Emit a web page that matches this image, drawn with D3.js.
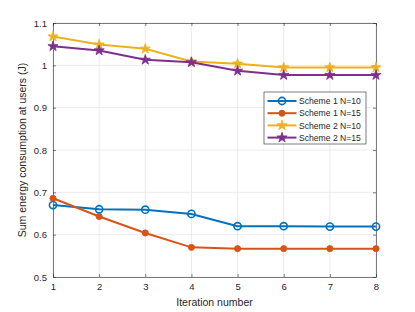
<!DOCTYPE html>
<meta charset="utf-8">
<head>
  <title>Energy vs iteration</title>
  <style>
    body { margin: 0; background: #fff; }
    text { font-family: "Liberation Sans", Arial, sans-serif; fill: #262626; }
  </style>
</head>
<body>
<script src="https://d3js.org/d3.v7.min.js"></script>
<script>

const iterations = [1, 2, 3, 4, 5, 6, 7, 8];
const yTicks = [0.5, 0.6, 0.7, 0.8, 0.9, 1, 1.1];

const s1n10 = [0.670, 0.660, 0.659, 0.649, 0.620, 0.620, 0.619, 0.619];
const s1n15 = [0.686, 0.643, 0.604, 0.570, 0.567, 0.567, 0.567, 0.567];
const s2n10 = [1.068, 1.049, 1.039, 1.009, 1.004, 0.995, 0.995, 0.995];
const s2n15 = [1.045, 1.035, 1.013, 1.007, 0.987, 0.977, 0.977, 0.977];

const seriesNames = ["Scheme 1 N=10", "Scheme 1 N=15", "Scheme 2 N=10", "Scheme 2 N=15"];

const series = [
  { name: seriesNames[0], values: s1n10, color: "#0072BD", marker: "circle" },
  { name: seriesNames[1], values: s1n15, color: "#D95319", marker: "dot" },
  { name: seriesNames[2], values: s2n10, color: "#EDB120", marker: "star" },
  { name: seriesNames[3], values: s2n15, color: "#7E2F8E", marker: "star" }
];

const totalWidth = 415, totalHeight = 312,
      margin = {top: 23, right: 39, bottom: 35, left: 53},
      width = totalWidth - margin.left - margin.right,
      height = totalHeight - margin.top - margin.bottom;

const svg = d3.select("body")
    .append("svg")
    .attr("width", totalWidth)
    .attr("height", totalHeight);

const g = svg.append("g")
    .attr("transform", "translate(" + margin.left + "," + margin.top + ")");

const x = d3.scaleLinear().domain([1, 8]).range([0, width]);
const y = d3.scaleLinear().domain([0.5, 1.1]).range([height, 0]);

// grid
g.append("g")
  .selectAll("line")
  .data(iterations)
  .join("line")
  .attr("x1", d => x(d)).attr("x2", d => x(d))
  .attr("y1", 0).attr("y2", height)
  .style("stroke", "#e6e6e6").style("stroke-width", 0.8);

g.append("g")
  .selectAll("line")
  .data(yTicks)
  .join("line")
  .attr("x1", 0).attr("x2", width)
  .attr("y1", d => y(d)).attr("y2", d => y(d))
  .style("stroke", "#e6e6e6").style("stroke-width", 0.8);

// axes (MATLAB style, ticks inward, box on)
function styleAxis(sel) {
  sel.select(".domain").style("stroke", "#262626").style("stroke-width", 0.6);
  sel.selectAll(".tick line").style("stroke", "#262626").style("stroke-width", 0.6);
  sel.selectAll("text").style("font-size", "9.5px").style("fill", "#262626")
    .style("font-family", "Liberation Sans, Arial, sans-serif");
}

g.append("g")
  .attr("transform", "translate(0," + height + ")")
  .call(d3.axisBottom(x).tickValues(iterations).tickSizeInner(-3).tickSizeOuter(0).tickPadding(6).tickFormat(d3.format("d")))
  .call(styleAxis);

g.append("g")
  .call(d3.axisTop(x).tickValues(iterations).tickSizeInner(-3).tickSizeOuter(0).tickFormat(""))
  .call(styleAxis);

g.append("g")
  .call(d3.axisLeft(y).tickValues(yTicks).tickSizeInner(-3).tickSizeOuter(0).tickPadding(6).tickFormat(d3.format("")))
  .call(styleAxis);

g.append("g")
  .attr("transform", "translate(" + width + ",0)")
  .call(d3.axisRight(y).tickValues(yTicks).tickSizeInner(-3).tickSizeOuter(0).tickFormat(""))
  .call(styleAxis);

// axis labels
g.append("text")
  .attr("x", width / 2).attr("y", height + 29)
  .attr("text-anchor", "middle")
  .style("font-size", "10.5px")
  .text("Iteration number");

g.append("text")
  .attr("transform", "translate(-27," + (height / 2) + ") rotate(-90)")
  .attr("text-anchor", "middle")
  .style("font-size", "10.5px")
  .text("Sum energy consumption at users (J)");

// lines and markers
const line = d3.line().x((v, i) => x(iterations[i])).y(v => y(v));

function drawMarker(sel, s, cx, cy) {
  if (s.marker === "circle") {
    sel.append("circle").attr("cx", cx).attr("cy", cy).attr("r", 3.6)
      .style("fill", "none").style("stroke", s.color).style("stroke-width", 1.6);
  } else if (s.marker === "dot") {
    sel.append("circle").attr("cx", cx).attr("cy", cy).attr("r", 3.1)
      .style("fill", s.color).style("stroke", s.color).style("stroke-width", 0.8);
  } else {
    sel.append("path")
      .attr("d", d3.symbol().type(d3.symbolStar).size(32)())
      .attr("transform", "translate(" + cx + "," + cy + ")")
      .style("fill", s.color).style("stroke", s.color).style("stroke-width", 0.8);
  }
}

series.forEach(s => {
  const sg = g.append("g");
  sg.append("path")
    .attr("d", line(s.values))
    .style("fill", "none")
    .style("stroke", s.color)
    .style("stroke-width", 2);
  s.values.forEach((v, i) => drawMarker(sg, s, x(iterations[i]), y(v)));
});

// legend
const lg = svg.append("g").attr("transform", "translate(264,92)");
lg.append("rect")
  .attr("width", 102).attr("height", 52)
  .style("fill", "#fff").style("stroke", "#262626").style("stroke-width", 0.6);

series.forEach((s, i) => {
  const ly = 9 + i * 12.2;
  const row = lg.append("g");
  row.append("line")
    .attr("x1", 3.5).attr("x2", 32.5).attr("y1", ly).attr("y2", ly)
    .style("stroke", s.color).style("stroke-width", 2);
  drawMarker(row, s, 18, ly);
  row.append("text")
    .attr("x", 35).attr("y", ly + 3.2)
    .style("font-size", "8.6px")
    .text(s.name);
});

</script>
</body>
</html>
